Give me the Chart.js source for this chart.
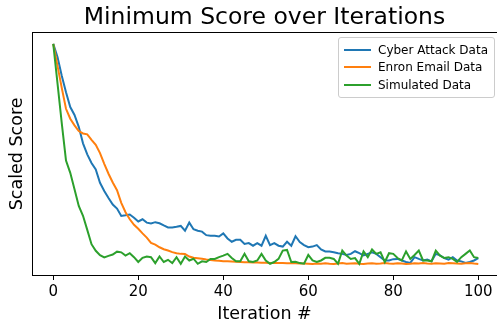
<!DOCTYPE html>
<html lang="en">
<head>
    <meta charset="UTF-8">
    <title>Minimum Score over Iterations</title>
    <script src="https://cdn.jsdelivr.net/npm/chart.js"></script>
    <style>
        body {
            margin: 0;
            background: #ffffff;
            font-family: "DejaVu Sans", sans-serif;
        }
        #wrap {
            position: relative;
            width: 497px;
            height: 325px;
        }
        #legend {
            position: absolute;
            left: 338px;
            top: 37px;
            width: 155px;
            padding: 3px 0;
            border: 1px solid #cccccc;
            border-radius: 3px;
            background: rgba(255, 255, 255, 0.8);
            font-size: 12px;
            color: #000;
        }
        #legend .row {
            display: flex;
            align-items: center;
            height: 17.5px;
        }
        #legend .swatch {
            width: 27px;
            height: 2px;
            margin: 0 7px 0 5px;
        }
    </style>
</head>
<body>
<div id="wrap">
    <canvas id="scoreChart" width="497" height="325"></canvas>
    <div id="legend"></div>
</div>
<script>
    const seriesNames = ['Cyber Attack Data', 'Enron Email Data', 'Simulated Data'];
    const seriesColors = ['#1f77b4', '#ff7f0e', '#2ca02c'];
    const xTicks = [0, 20, 40, 60, 80, 100];

    // one value per iteration (0..100), scaled score
    const cyberAttack = [
        1.0, 0.94, 0.855, 0.78, 0.713, 0.677, 0.623, 0.548, 0.498, 0.459,
        0.43, 0.369, 0.332, 0.30, 0.27, 0.252, 0.218, 0.221, 0.225, 0.21,
        0.193, 0.203, 0.188, 0.184, 0.19, 0.185, 0.175, 0.166, 0.166, 0.169,
        0.173, 0.151, 0.188, 0.158, 0.151, 0.147, 0.131, 0.128, 0.128, 0.125,
        0.139, 0.116, 0.101, 0.11, 0.11, 0.091, 0.095, 0.083, 0.095, 0.083,
        0.128, 0.086, 0.095, 0.083, 0.079, 0.101, 0.083, 0.126, 0.1, 0.086,
        0.076, 0.079, 0.086, 0.066, 0.057, 0.057, 0.053, 0.049, 0.046, 0.041,
        0.046, 0.058, 0.049, 0.039, 0.046, 0.053, 0.046, 0.031, 0.016, 0.016,
        0.022, 0.023, 0.016, 0.009, 0.005, 0.031, 0.023, 0.016, 0.02, 0.012,
        0.046, 0.039, 0.027, 0.02, 0.031, 0.016, 0.012, 0.005, 0.009, 0.016,
        0.027
    ];
    const enronEmail = [
        1.0, 0.90, 0.80, 0.705, 0.66, 0.63, 0.604, 0.593, 0.589, 0.564,
        0.541, 0.504, 0.455, 0.41, 0.37, 0.335, 0.278, 0.235, 0.203, 0.178,
        0.16, 0.139, 0.12, 0.096, 0.088, 0.076, 0.067, 0.061, 0.054, 0.049,
        0.046, 0.045, 0.034, 0.028, 0.026, 0.024, 0.02, 0.018, 0.016, 0.015,
        0.013, 0.012, 0.011, 0.01, 0.009, 0.008, 0.008, 0.007, 0.007, 0.006,
        0.006, 0.005, 0.005, 0.004, 0.004, 0.003, 0.003, 0.003, 0.002, 0.002,
        0.001, 0.0, 0.002, 0.001, 0.003, 0.001, 0.0, 0.002, 0.004, 0.001,
        0.002, 0.003, 0.001, 0.0, 0.002, 0.003, 0.001, 0.002, 0.004, 0.002,
        0.001, 0.003, 0.002, 0.0, 0.001, 0.003, 0.002, 0.004, 0.002, 0.001,
        0.003, 0.002, 0.001, 0.004, 0.003, 0.002, 0.001, 0.003, 0.005, 0.002,
        0.0
    ];
    const simulated = [
        1.0, 0.82, 0.64, 0.47, 0.414, 0.339, 0.264, 0.219, 0.155, 0.09,
        0.06, 0.04, 0.03, 0.037, 0.043, 0.056, 0.053, 0.038, 0.049, 0.031,
        0.009, 0.028, 0.034, 0.031, 0.004, 0.034, 0.009, 0.019, 0.004, 0.031,
        0.001, 0.034, 0.016, 0.024, 0.001, 0.012, 0.009, 0.023, 0.023, 0.031,
        0.038, 0.046, 0.027, 0.012, 0.012, 0.046, 0.012, 0.009, 0.016, 0.046,
        0.016, 0.001, 0.009, 0.023, 0.061, 0.064, 0.009, 0.01, 0.004, 0.001,
        0.041, 0.016, 0.009, 0.016, 0.028, 0.028, 0.023, 0.001, 0.061, 0.038,
        0.023, 0.027, 0.001, 0.057, 0.031, 0.066, 0.046, 0.053, 0.009, 0.049,
        0.046, 0.027, 0.016, 0.057, 0.023, 0.041, 0.061, 0.016, 0.016, 0.012,
        0.061, 0.038, 0.027, 0.031, 0.023, 0.009, 0.031, 0.046, 0.061, 0.031,
        0.027
    ];

    const allSeries = [cyberAttack, enronEmail, simulated];

    Chart.defaults.font.family = "'DejaVu Sans', sans-serif";
    Chart.defaults.color = '#000000';

    const datasets = allSeries.map((values, idx) => ({
        label: seriesNames[idx],
        data: values.map((v, i) => ({ x: i, y: v })),
        borderColor: seriesColors[idx],
        backgroundColor: seriesColors[idx],
        borderWidth: 2,
        pointRadius: 0,
        tension: 0,
        fill: false,
        order: allSeries.length - idx // later series drawn on top, like matplotlib
    }));

    // legend as html, matplotlib-style box in the top right
    const legendEl = document.getElementById('legend');
    seriesNames.forEach((name, idx) => {
        const row = document.createElement('div');
        row.className = 'row';
        const sw = document.createElement('span');
        sw.className = 'swatch';
        sw.style.background = seriesColors[idx];
        const txt = document.createElement('span');
        txt.textContent = name;
        row.appendChild(sw);
        row.appendChild(txt);
        legendEl.appendChild(row);
    });

    const ctx = document.getElementById('scoreChart').getContext('2d');
    new Chart(ctx, {
        type: 'line',
        data: { datasets: datasets },
        options: {
            responsive: false,
            animation: false,
            layout: { padding: { left: 0, right: 0, top: 0, bottom: 0 } },
            plugins: {
                legend: { display: false },
                tooltip: { enabled: false },
                title: {
                    display: true,
                    text: 'Minimum Score over Iterations',
                    fullSize: false,
                    font: { size: 23.5, weight: 'normal', lineHeight: 1.1 },
                    padding: { top: 5, bottom: 2 }
                }
            },
            scales: {
                x: {
                    type: 'linear',
                    min: -5,
                    max: 104.4,
                    afterBuildTicks: (scale) => {
                        scale.ticks = xTicks.map(v => ({ value: v }));
                    },
                    ticks: {
                        font: { size: 15 },
                        padding: 3,
                        maxRotation: 0
                    },
                    grid: {
                        display: true,
                        drawOnChartArea: false,
                        drawTicks: true,
                        tickLength: 5,
                        color: '#000000'
                    },
                    border: { display: true, color: '#000000', width: 1 },
                    title: {
                        display: true,
                        text: 'Iteration #',
                        font: { size: 17.5 },
                        padding: { top: 0, bottom: 0 }
                    }
                },
                xTop: {
                    type: 'linear',
                    position: 'top',
                    min: -5,
                    max: 104.4,
                    ticks: { display: false },
                    grid: { display: false, drawTicks: false },
                    border: { display: true, color: '#000000', width: 1 }
                },
                y: {
                    min: -0.05,
                    max: 1.05,
                    ticks: { display: false },
                    grid: { display: false, drawTicks: false },
                    border: { display: true, color: '#000000', width: 1 },
                    title: {
                        display: true,
                        text: 'Scaled Score',
                        font: { size: 17.5 },
                        padding: { top: 7, bottom: 0 }
                    },
                    afterFit: (scale) => { scale.width = 32; }
                }
            }
        }
    });
</script>
</body>
</html>
